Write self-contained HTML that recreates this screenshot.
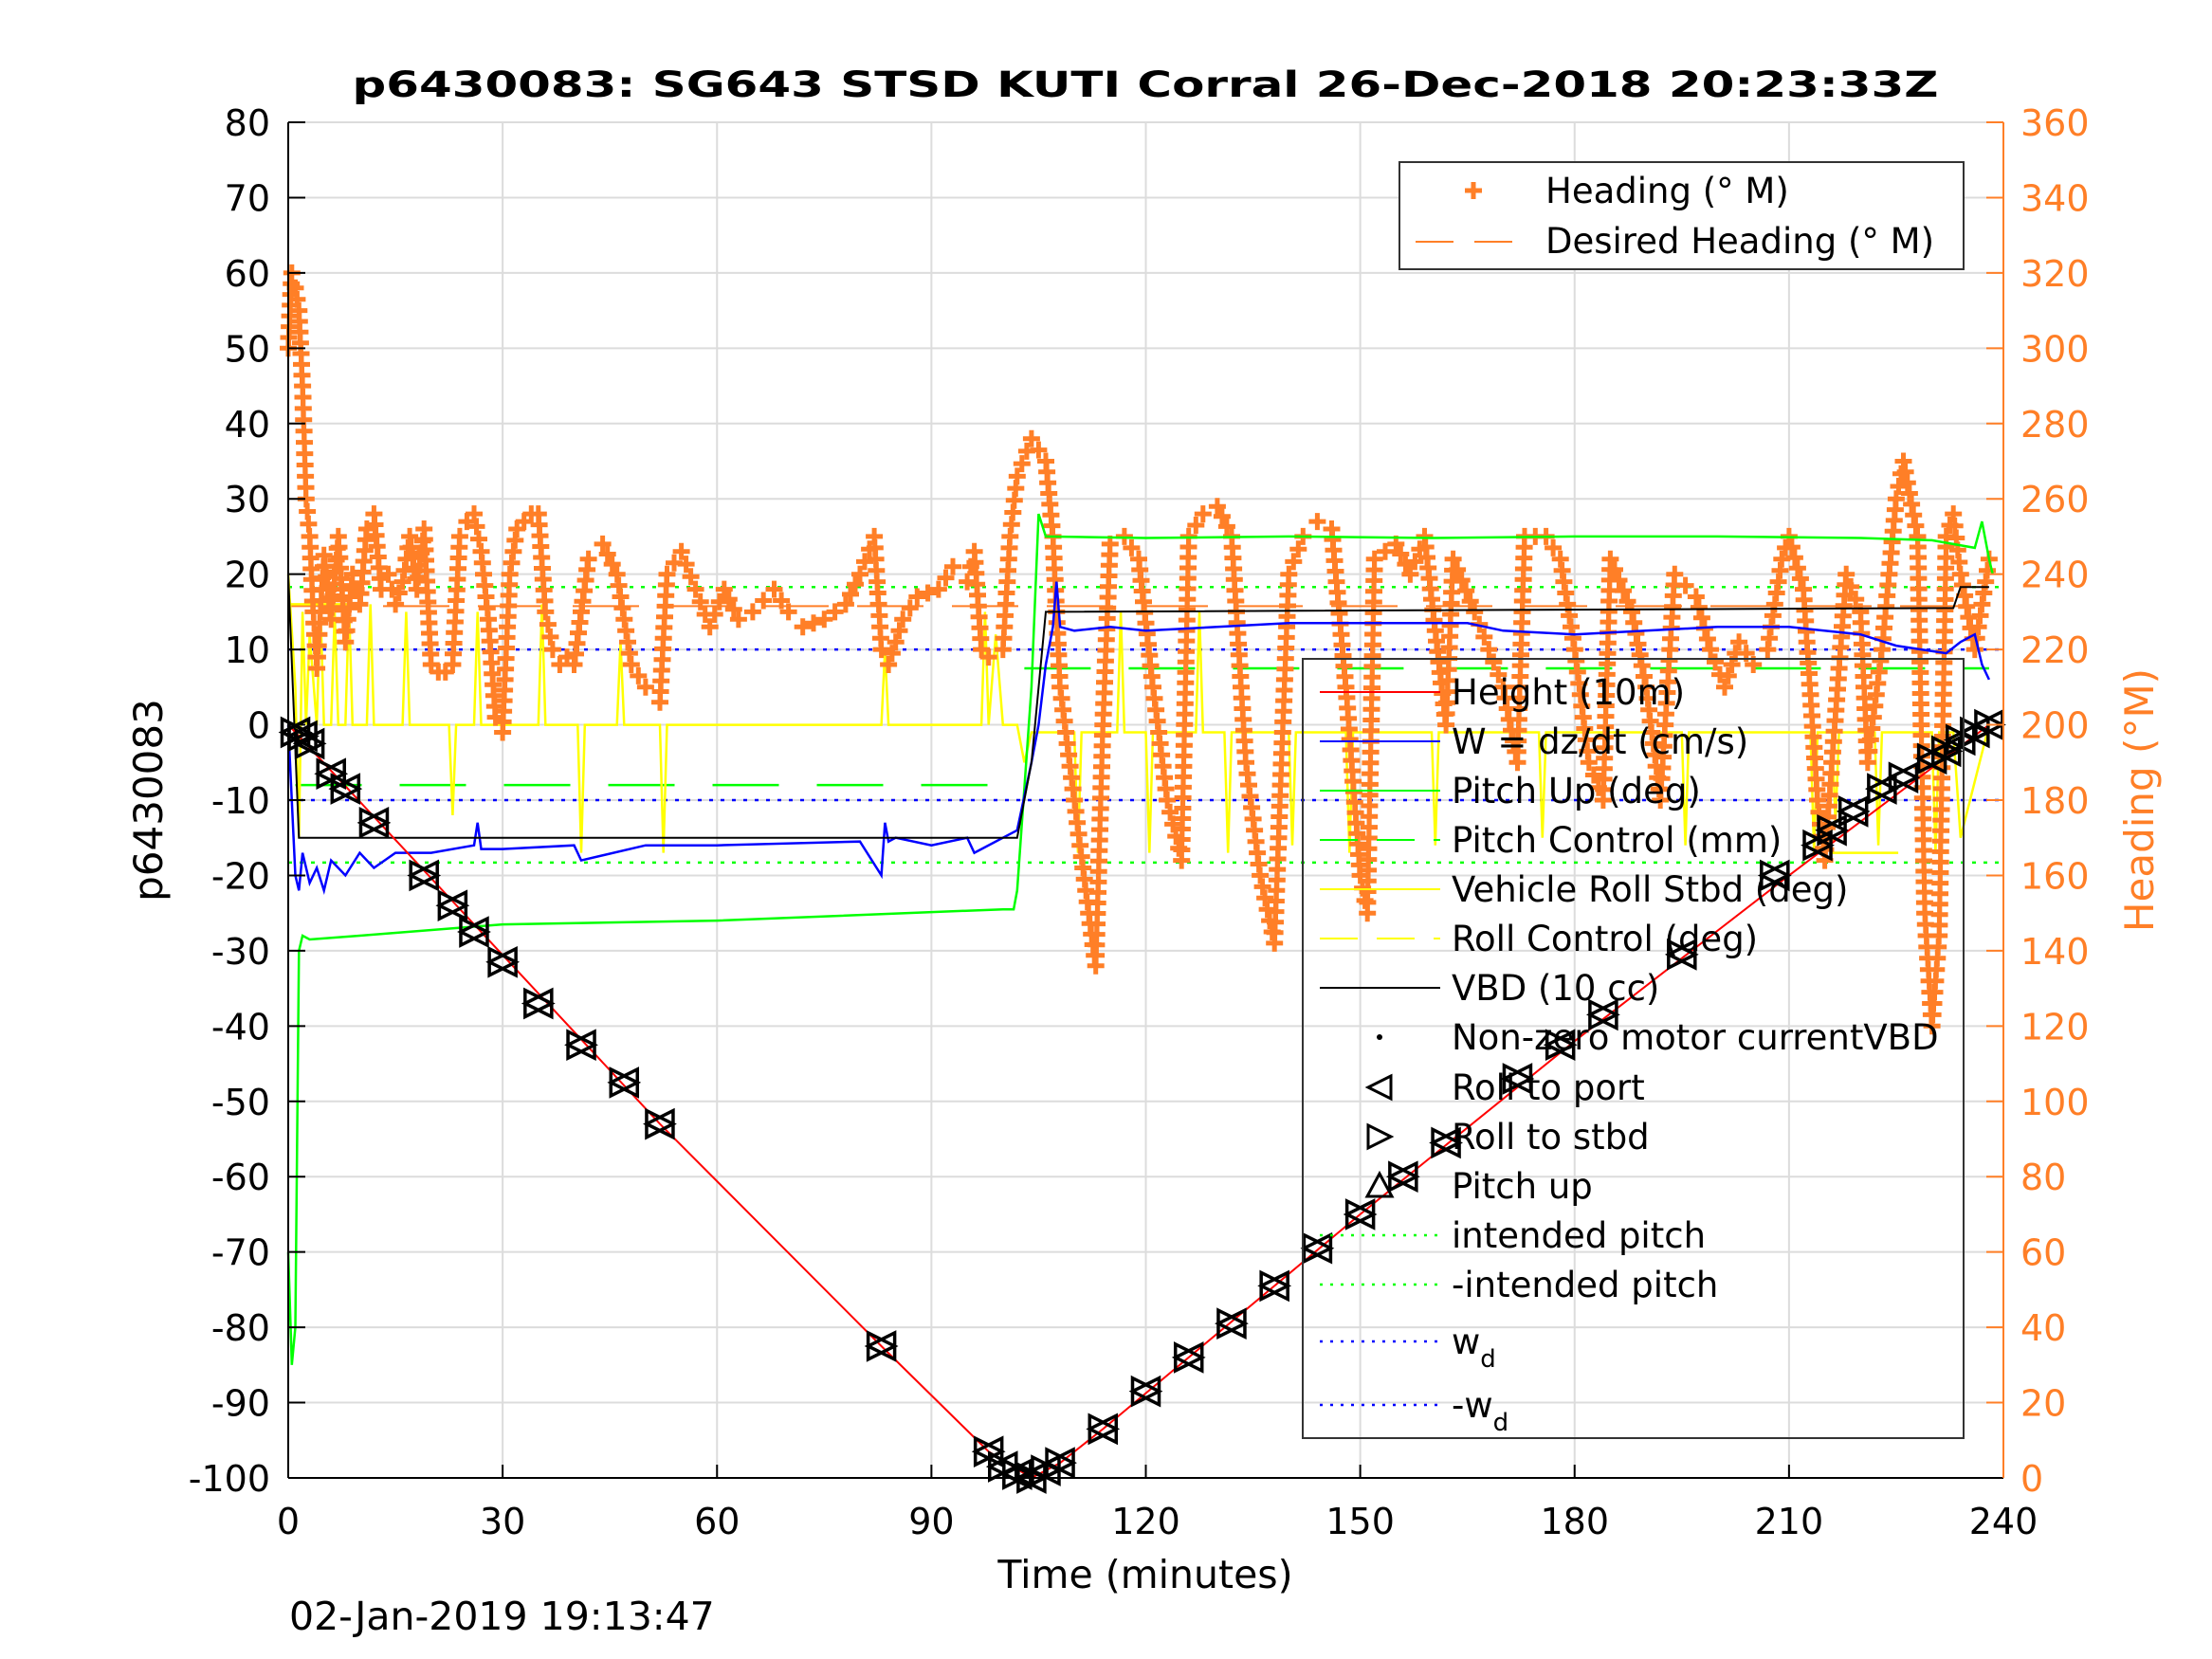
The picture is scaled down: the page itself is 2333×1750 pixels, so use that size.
<!DOCTYPE html>
<html><head><meta charset="utf-8"><style>
html,body{margin:0;padding:0;background:#fff;}
svg{display:block;font-family:"DejaVu Sans","Liberation Sans",sans-serif;}
</style></head><body>
<svg id="chart" width="2333" height="1750" viewBox="0 0 2333 1750" xmlns="http://www.w3.org/2000/svg">
<rect width="2333" height="1750" fill="#fff"/>
<text x="1208" y="102" font-size="37" font-weight="bold" text-anchor="middle" textLength="1673" lengthAdjust="spacingAndGlyphs">p6430083: SG643 STSD KUTI Corral 26-Dec-2018 20:23:33Z</text>
<g id="grid"></g>
<g id="series"></g>
<g id="axes"></g>
<text x="0" y="0" font-size="42" text-anchor="middle" transform="translate(171,844) rotate(-90)">p6430083</text>
<text x="0" y="0" font-size="42" fill="#ff7f27" text-anchor="middle" transform="translate(2271,844) rotate(-90)">Heading (°M)</text>
<text x="1208" y="1675" font-size="41" text-anchor="middle">Time (minutes)</text>
<text x="305" y="1719" font-size="41">02-Jan-2019 19:13:47</text>
<g id="legend1"></g>
<g id="legend2"></g>
</svg>
<script>
// ---- data ----
const xTicks = [0,30,60,90,120,150,180,210,240];
const yTicks = [80,70,60,50,40,30,20,10,0,-10,-20,-30,-40,-50,-60,-70,-80,-90,-100];
const y2Ticks = [360,340,320,300,280,260,240,220,200,180,160,140,120,100,80,60,40,20,0];
const headT = [0,0.5,1,1.5,2,2.5,3,3.5,4,5,6,7,8,9,10,11,12,13,14,15,16,17,18,19,20,21,22,23,24,25,26,27,28,29,30,31,32,33,34,35,36,37,38,39,40,42,44,46,48,50,52,53,55,57,59,61,63,65,68,70,72,75,78,80,82,83,84,86,88,91,93,95,96,97,98,100,101,102,104,106,107,108,110,112,113,114,115,117,119,121,123,125,126,128,130,132,134,136,138,140,142,144,146,148,150,151,152,155,157,159,162,163,166,168,170,172,173,176,178,180,182,184,185,188,190,192,194,197,199,201,203,205,207,209,210,212,214,215,216,218,220,221,223,225,226,228,229,230,231,232,233,234,236,238];
const headV = [300,320,316,310,290,260,250,230,215,245,228,250,222,240,232,252,256,236,240,232,238,250,236,252,216,214,214,216,250,254,256,246,228,202,198,240,252,254,256,256,230,220,216,218,216,244,248,240,216,210,206,240,246,236,226,236,228,230,236,230,226,228,232,240,250,220,216,228,234,236,242,238,246,220,218,220,250,266,276,270,250,210,180,150,136,200,248,250,244,210,180,164,250,256,258,250,190,160,142,240,250,254,252,210,160,150,244,248,240,250,200,244,230,220,210,190,250,250,244,220,190,180,244,230,210,180,240,234,220,210,222,216,220,244,250,236,180,164,190,240,230,190,220,260,270,250,150,120,144,250,256,240,220,244];
const desHeadT = [0,238];
const desHeadV = [231.5,231.5];
const heightT = [0,1,52,83,98,104,108,114,150,180,210,238];
const heightV = [0,-1,-53,-82.5,-96.5,-100,-98,-93.5,-65,-42,-20,0];
const markT = [1,2,3,6,8,12,19,23,26,30,35,41,47,52,83,98,100,102,104,106,108,114,120,126,132,138,144,150,156,162,172,178,184,195,208,214,216,219,223,226,230,232,234,236,238];
const markV = [-1,-1.5,-2.5,-6.5,-8.5,-13,-20,-24,-27.5,-31.5,-37,-42.5,-47.5,-53,-82.5,-96.5,-98.5,-99.5,-100,-99,-98,-93.5,-88.5,-84,-79.5,-74.5,-69.5,-65,-60,-55.5,-47,-42.5,-38.5,-30.5,-20,-16,-14,-11.5,-8.5,-7,-4.5,-3.5,-2,-1,0];
const wT = [0,1,1.5,2,3,4,5,6,8,10,12,15,20,26,26.5,27,30,40,41,50,60,80,83,83.5,84,85,90,95,96,100,102,104,105,106,107,107.5,108,110,115,120,130,140,150,160,165,170,180,190,200,210,220,225,232,234,236,237,238];
const wV = [0,-20,-22,-17,-21,-19,-22,-18,-20,-17,-19,-17,-17,-16,-13,-16.5,-16.5,-16,-18,-16,-16,-15.5,-20,-13,-15.5,-15,-16,-15,-17,-15,-14,-5,0,8,13,19,13,12.5,13,12.5,13,13.5,13.5,13.5,13.5,12.5,12,12.5,13,13,12,10.5,9.5,11,12,8,6];
const pitchT = [0,0.5,1,1.5,2,3,10,30,60,100,101.5,102,104,105,106,120,140,160,180,200,220,230,236,237,238,238.5];
const pitchV = [-70,-85,-80,-30,-28,-28.5,-28,-26.5,-26,-24.5,-24.5,-22,5,28,25,24.8,25,24.8,25,25,24.8,24.5,23.5,27,22,20];
const pCtlT1 = [1,101];
const pCtlV1 = [-8,-8];
const pCtlT2 = [103,238];
const pCtlV2 = [7.5,7.5];
const rollT = [0,1,1.5,2,2.5,3,4,4.5,5,6,6.5,7,8,8.5,9,11,11.5,12,16,16.5,17,22.5,23,23.5,26,26.5,27,35,35.5,36,40.5,41,41.5,46,46.5,47,52,52.5,53,83,83.5,84,97,97.5,98,99,100,102,103,104,110,110.5,111,116,116.5,117,120,120.5,121,127,127.5,128,131,131.5,132,140,140.5,141,148,148.5,149,160,160.5,161,175,175.5,176,195,195.5,196,213,213.5,214,216,216.5,217,222,222.5,223,230,230.5,231,233,234,238];
const rollV = [20,5,-15,15,0,12,0,16,0,0,15,0,0,16,0,0,16,0,0,15,0,0,-12,0,0,15,0,0,16,0,0,-17,0,0,11,0,0,-17,0,0,10,0,0,15,0,12,0,0,-5,-1,-1,-17,-1,-1,15,-1,-1,-17,-1,-1,15,-1,-1,-17,-1,-1,-16,-1,-1,-17,-1,-1,-16,-1,-1,-15,-1,-1,-16,-1,-1,-17,-1,-1,-13,-1,-1,-16,-1,-1,-17,-1,-1,-15,0];
const rCtlT1 = [0,10];
const rCtlV1 = [16,16];
const rCtlT2 = [216,232];
const rCtlV2 = [-17,-17];
const vbdT = [0,1.5,102,104,106,233,234,238];
const vbdV = [20,-15,-15,-5,15,15.5,18.3,18.3];
const intendedPitch = [18.3,-18.3];
const wd = [10,-10];

// ---- geometry ----
const L=304,R=2113,T=129,B=1559;
const X=t=>L+(t/240)*(R-L);
const Y=v=>B-((v+100)/180)*(B-T);
const Yh=h=>B-(h/360)*(B-T);
const NS="http://www.w3.org/2000/svg";
function mk(tag,attrs,parent){const e=document.createElementNS(NS,tag);for(const k in attrs)e.setAttribute(k,attrs[k]);parent.appendChild(e);return e;}
const grid=document.getElementById('grid'),series=document.getElementById('series'),axes=document.getElementById('axes');

xTicks.forEach(t=>{
  const g=mk('line',{x1:X(t),x2:X(t),y1:T,y2:B,stroke:'#dcdcdc','stroke-width':2},grid);
  
  
  const lb=mk('text',{x:X(t),y:1618,'font-size':38,'text-anchor':'middle'},axes);lb.textContent=t;
  
  
  mk('line',{x1:X(t),x2:X(t),y1:B,y2:B-14,stroke:'#000','stroke-width':2},axes);
});
yTicks.forEach(v=>{
  const g=mk('line',{x1:L,x2:R,y1:Y(v),y2:Y(v),stroke:'#dcdcdc','stroke-width':2},grid);
  
  
  const lb=mk('text',{x:285,y:Y(v)+14,'font-size':38,'text-anchor':'end'},axes);lb.textContent=v;
  
  
  mk('line',{x1:L,x2:L+18,y1:Y(v),y2:Y(v),stroke:'#000','stroke-width':2},axes);
});
y2Ticks.forEach(h=>{
  const lb=mk('text',{x:2131,y:Yh(h)+14,'font-size':38,fill:'#ff7f27'},axes);lb.textContent=h;
  
  
  mk('line',{x1:R,x2:R-18,y1:Yh(h),y2:Yh(h),stroke:'#ff7f27','stroke-width':2},axes);
});
mk('line',{x1:L,x2:R,y1:B,y2:B,stroke:'#000','stroke-width':2},axes);
mk('line',{x1:L,x2:L,y1:T,y2:B,stroke:'#000','stroke-width':2},axes);
mk('line',{x1:R,x2:R,y1:T,y2:B,stroke:'#ff7f27','stroke-width':2},axes);

function poly(ts,vs,yf,attrs,name){
  const pts=ts.map((t,i)=>X(t).toFixed(1)+','+yf(vs[i]).toFixed(1)).join(' ');
  const p=mk('polyline',Object.assign({points:pts,fill:'none'},attrs),series);
  
  
  return p;
}
intendedPitch.forEach(v=>{poly([0,240],[v,v],Y,{stroke:'#00ff00','stroke-width':2.5,'stroke-dasharray':'4 8'},'intended-pitch-line');});
wd.forEach(v=>{poly([0,240],[v,v],Y,{stroke:'#0000ff','stroke-width':2.5,'stroke-dasharray':'4 8'},'wd-line');});
poly(desHeadT,desHeadV,Yh,{stroke:'#ff7f27','stroke-width':2,'stroke-dasharray':'70 30'},'desired-heading-line');
poly(pCtlT1,pCtlV1,Y,{stroke:'#00ff00','stroke-width':2.5,'stroke-dasharray':'70 40'},'pitch-control-line');
poly(pCtlT2,pCtlV2,Y,{stroke:'#00ff00','stroke-width':2.5,'stroke-dasharray':'70 40'},'pitch-control-line');
poly(rCtlT1,rCtlV1,Y,{stroke:'#ffff00','stroke-width':2.5,'stroke-dasharray':'70 40'},'roll-control-line');
poly(rCtlT2,rCtlV2,Y,{stroke:'#ffff00','stroke-width':2.5,'stroke-dasharray':'70 40'},'roll-control-line');
poly(rollT,rollV,Y,{stroke:'#ffff00','stroke-width':2.5},'roll-line');
// heading: "+" markers placed along the trace between data points
let hd='';
for(let i=0;i<headT.length;i++){
  const x=X(headT[i]),y=Yh(headV[i]);
  hd+=`M${(x-9).toFixed(1)},${y.toFixed(1)}h18M${x.toFixed(1)},${(y-9).toFixed(1)}v18`;
  if(i+1<headT.length){
    const x2=X(headT[i+1]),y2=Yh(headV[i+1]);
    const d=Math.hypot(x2-x,y2-y),n=Math.floor(d/11);
    for(let k=1;k<n;k++){const px=x+(x2-x)*k/n,py=y+(y2-y)*k/n;
      hd+=`M${(px-9).toFixed(1)},${py.toFixed(1)}h18M${px.toFixed(1)},${(py-9).toFixed(1)}v18`;}
  }
}
const hp=mk('path',{d:hd,stroke:'#ff7f27','stroke-width':5,fill:'none'},series);


poly(pitchT,pitchV,Y,{stroke:'#00ff00','stroke-width':2.5},'pitch-line');
poly(wT,wV,Y,{stroke:'#0000ff','stroke-width':2.5},'w-line');
poly(vbdT,vbdV,Y,{stroke:'#000','stroke-width':2},'vbd-line');
poly(heightT,heightV,Y,{stroke:'#ff0000','stroke-width':2},'height-line');
markT.forEach((t,i)=>{
  const x=X(t),y=Y(markV[i]),s=14;
  const p=mk('path',{d:`M${x+s},${y-s}L${x-s},${y}L${x+s},${y+s}ZM${x-s},${y-s}L${x+s},${y}L${x-s},${y+s}Z`,fill:'none',stroke:'#000','stroke-width':3.5},series);
  
  
});

// legend 1
const lg1=document.getElementById('legend1');
mk('rect',{x:1476,y:171,width:595,height:113,fill:'#fff',stroke:'#333','stroke-width':2},lg1);
mk('path',{d:'M1545,201h18M1554,192v18',stroke:'#ff7f27','stroke-width':5},lg1);
let t1=mk('text',{x:1630,y:214,'font-size':37},lg1);t1.textContent='Heading (° M)';
mk('line',{x1:1493,x2:1601,y1:255,y2:255,stroke:'#ff7f27','stroke-width':2,'stroke-dasharray':'40 22'},lg1);
let t2=mk('text',{x:1630,y:267,'font-size':37},lg1);t2.textContent='Desired Heading (° M)';

// legend 2
const lg2=document.getElementById('legend2');
mk('rect',{x:1374,y:695,width:697,height:822,fill:'none',stroke:'#333','stroke-width':2},lg2);
const legNames=['Height (10m)','W = dz/dt (cm/s)','Pitch Up (deg)','Pitch Control (mm)','Vehicle Roll Stbd (deg)','Roll Control (deg)','VBD (10 cc)','Non-zero motor currentVBD','Roll to port','Roll to stbd','Pitch up','intended pitch','-intended pitch','w','-w'];
const legY=[730,782,834,886,938,990,1042,1094,1147,1199,1251,1303,1355,1415,1482];
legNames.forEach((n,i)=>{
  const y=legY[i],x0=1392,x1=1519,cx=1455;
  if(i<7){
    const st=[['#ff0000',''],['#0000ff',''],['#00ff00',''],['#00ff00','40 20'],['#ffff00',''],['#ffff00','40 20'],['#000','']][i];
    mk('line',{x1:x0,x2:x1,y1:y,y2:y,stroke:st[0],'stroke-width':2,'stroke-dasharray':st[1]},lg2);
  } else if(i==7){ mk('circle',{cx:cx,cy:y,r:3,fill:'#000'},lg2);}
  else if(i==8){ mk('path',{d:`M${cx+12},${y-12}L${cx-12},${y}L${cx+12},${y+12}Z`,fill:'none',stroke:'#000','stroke-width':3},lg2);}
  else if(i==9){ mk('path',{d:`M${cx-12},${y-12}L${cx+12},${y}L${cx-12},${y+12}Z`,fill:'none',stroke:'#000','stroke-width':3},lg2);}
  else if(i==10){ mk('path',{d:`M${cx},${y-13}L${cx+13},${y+11}L${cx-13},${y+11}Z`,fill:'none',stroke:'#000','stroke-width':3},lg2);}
  else { const c=i<13?'#00ff00':'#0000ff'; mk('line',{x1:x0,x2:x1,y1:y,y2:y,stroke:c,'stroke-width':2.5,'stroke-dasharray':'3 8'},lg2);}
  const tx=mk('text',{x:1531,y:y+13,'font-size':37},lg2);
  tx.textContent=n;
  
  
  if(i>=13){const s=mk('tspan',{dy:14,'font-size':26},tx);s.textContent='d';}
});
</script>
</body></html>
